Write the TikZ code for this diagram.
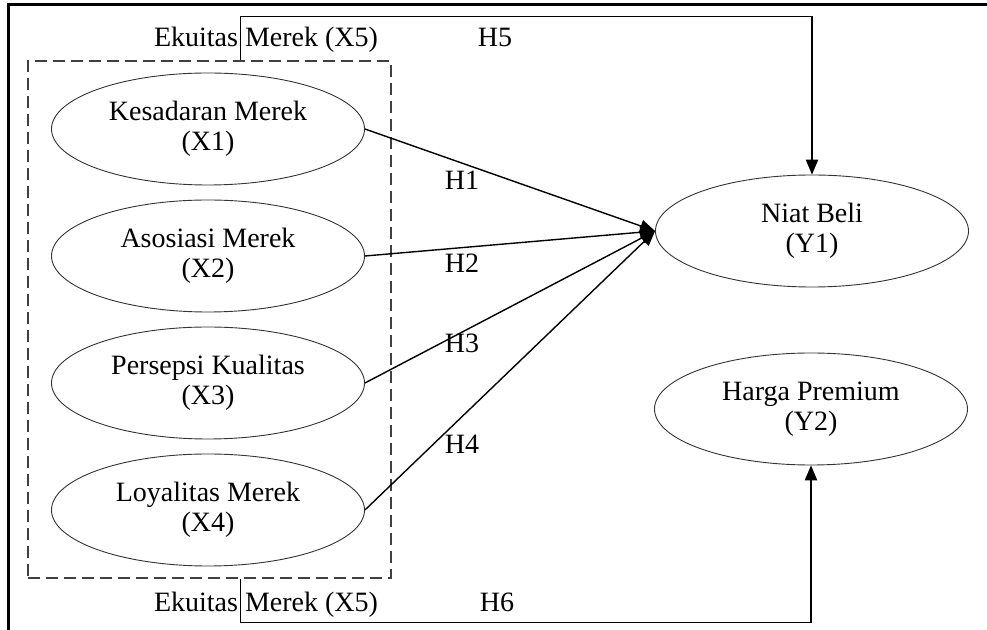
\documentclass[tikz,border=0pt]{standalone}
\usepackage{fontspec}
\setmainfont{Liberation Serif}
\usetikzlibrary{arrows}
\usetikzlibrary{shapes.geometric}

\begin{document}
\begin{tikzpicture}[x=0.5pt,y=-0.5pt,
  var/.style={ellipse, draw=black!80, line width=0.45pt, minimum width=156.5pt, minimum height=56pt, inner sep=0, align=center, font=\fontsize{14}{15}\selectfont},
  lbl/.style={inner sep=0, font=\fontsize{14}{15}\selectfont},
  hyp/.style={line width=0.7pt, -triangle 45}]
\useasboundingbox (0,0) rectangle (987,630);
\draw[line width=1.5pt] (8,630) -- (8,5) -- (987,5);

% dimensi ekuitas merek
\node[draw=black!75, line width=0.7pt, dash pattern=on 6pt off 3pt, minimum width=181.5pt, minimum height=258.5pt, inner sep=0] (x5) at (209.5,319.5) {};
\foreach \i/\name/\y in {1/Kesadaran Merek/129, 2/Asosiasi Merek/256, 3/Persepsi Kualitas/383, 4/Loyalitas Merek/510}
  \node[var] (x\i) at (208,\y) {\name\\(X\i)};

\node[var] (y1) at (812,231) {Niat Beli\\(Y1)};
\node[var] (y2) at (811,409) {Harga Premium\\(Y2)};

\foreach \i/\yy in {1/190, 2/273, 3/353, 4/454} {
  \draw[hyp] (x\i.east) -- (y1.west);
  \node[lbl, anchor=base] (h\i) at (462,\yy) {H\i};
};

\draw[hyp] ([xshift=15.5pt]x5.north) -- ++(0,-44) -| (y1.north);
\draw[hyp] ([xshift=15.5pt]x5.south) -- ++(0,44) -| (y2.south);

\node[lbl, anchor=base] (ek1) at (266,47) {Ekuitas Merek (X5)};
\node[lbl, anchor=base] (ek2) at (266,612) {Ekuitas Merek (X5)};
\node[lbl, anchor=base] (h5) at (495,47) {H5};
\node[lbl, anchor=base] (h6) at (497,612) {H6};
\end{tikzpicture}
\end{document}
